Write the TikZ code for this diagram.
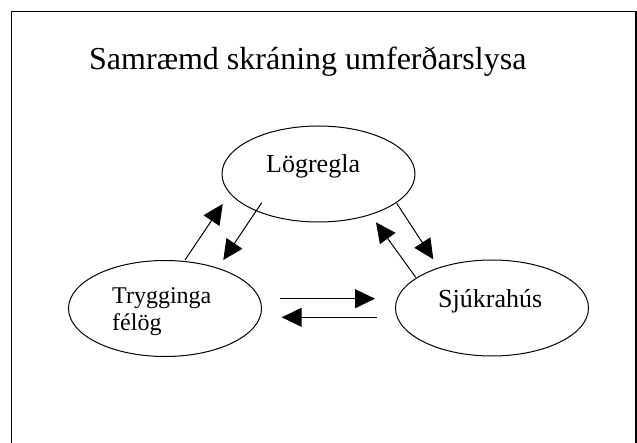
\documentclass[tikz,border=0pt]{standalone}
\usepackage{fontspec}
\setmainfont{Liberation Serif}
\usetikzlibrary{arrows.meta, shapes, positioning, calc}
\tikzset{
  stofnun/.style={draw, ellipse, line width=1pt, minimum width=193pt, minimum height=96pt, inner sep=0pt},
  heiti/.style={anchor=base west, inner sep=0pt, font=\fontsize{26}{31}\selectfont},
  flow/.style={line width=1pt, -{Triangle[length=20pt,width=19pt]}}
}

\begin{document}
\begin{tikzpicture}[x=1pt,y=-1pt]
\useasboundingbox (0,0) rectangle (637,443);
% ramminn
\draw[line width=1.7pt] (11.5,443) -- (11.5,11.5) -- (636,11.5) -- (636,443);
\node[anchor=base west, inner sep=0pt, font=\fontsize{32}{38}\selectfont] (title) at (89,70) {Samræmd skráning umferðarslysa};
% stofnanir
\node[stofnun] (L) at (318.5,174) {};
\node[stofnun] (T) at (165,308.5) {};
\node[stofnun] (S) at (492,308) {};
\node[heiti] (Ltxt) at (266,173) {Lögregla};
\node[heiti] (Stxt) at (438,308) {Sjúkrahús};
\node[heiti, align=left, font=\fontsize{24}{27}\selectfont] (Ttxt) at (112,331) {Trygginga\\félög};
% endar oervanna
\coordinate (a1) at (185,260);   \coordinate (b1) at (222.7,204);
\coordinate (a2) at (261.7,202.7); \coordinate (b2) at (223.3,260);
\coordinate (a3) at (396.7,203.3); \coordinate (b3) at (433.3,259.3);
\coordinate (a4) at (415.7,277.3); \coordinate (b4) at (376,222.3);
\coordinate (a5) at (280,298.7);   \coordinate (b5) at (375,298.7);
\coordinate (a6) at (376.7,317.3); \coordinate (b6) at (281.7,317.3);
\foreach \x in {1,...,6} {
  \draw[flow] (a\x) -- (b\x);
}
\end{tikzpicture}
\end{document}
